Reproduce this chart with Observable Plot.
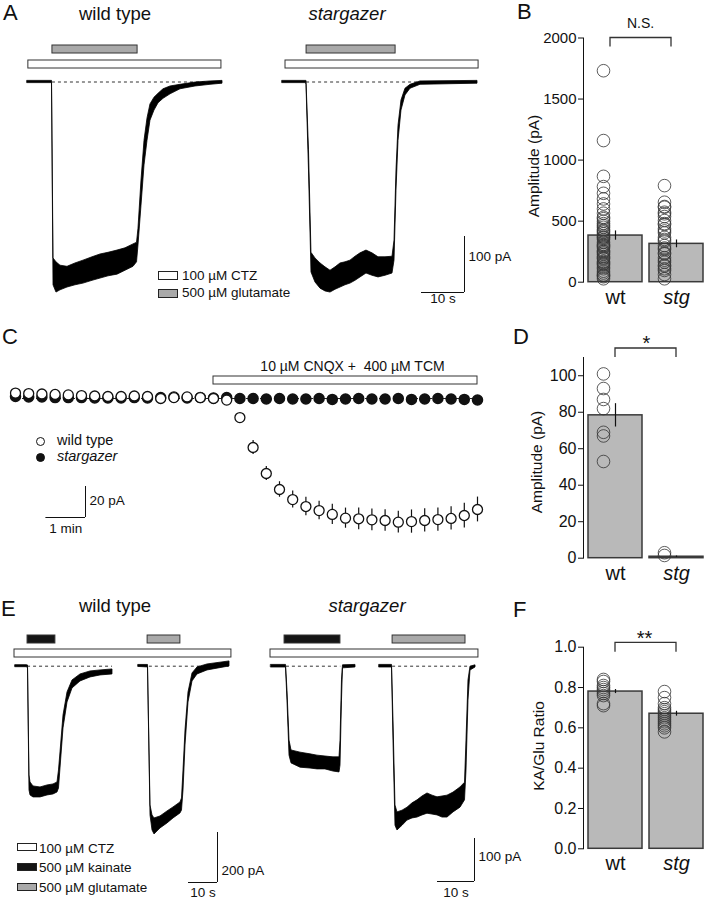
<!DOCTYPE html>
<html><head><meta charset="utf-8">
<script src="https://cdn.jsdelivr.net/npm/d3@7"></script>
<script src="https://cdn.jsdelivr.net/npm/@observablehq/plot@0.6"></script>
<style>
body{margin:0;background:#fff;}
#root{position:relative;width:705px;height:900px;overflow:hidden;background:#fff;font-family:"Liberation Sans",Arial,Helvetica,sans-serif;color:#111;}
.abs{position:absolute;white-space:pre;line-height:1;}
</style></head>
<body><div id="root"></div>
<script>
// ---------------- DATA ----------------
// Panel A traces: [time (s), upper edge (pA), lower edge (pA)]
const traceA_wt = [[0,2,-2],[5.7,2,-2],[6.05,-315,-363],[6.74,-322,-376],[7.67,-328,-372],[9.30,-330,-367],[11.16,-324,-363],[13.02,-319,-360],[15.12,-313,-355],[16.98,-308,-351],[18.84,-305,-347],[20.93,-301,-344],[22.79,-297,-337],[24.65,-290,-330],[25.47,-287,-322],[25.81,-262,-292],[26.51,-176,-221],[27.21,-105,-149],[27.91,-65,-105],[28.60,-40,-69],[29.53,-28,-51],[30.47,-21,-38],[31.63,-13,-30],[33.26,-8,-22],[35.58,-5,-13],[39.07,-1,-8],[42.56,1,-5],[45.35,2,-3]];
const traceA_stg = [[0,2,-2],[5.47,2,-2],[5.58,2,-5],[6.16,-122,-158],[6.74,-305,-340],[7.67,-315,-358],[8.84,-324,-369],[10.0,-331,-374],[11.16,-337,-376],[12.33,-331,-371],[13.49,-324,-367],[14.65,-322,-363],[15.81,-319,-360],[16.98,-312,-355],[18.14,-306,-349],[19.53,-301,-342],[20.93,-306,-346],[22.33,-313,-349],[23.95,-313,-346],[25.58,-312,-342],[26.05,-283,-319],[26.51,-158,-194],[26.98,-78,-105],[27.67,-33,-51],[28.60,-12,-24],[29.77,-5,-12],[32.09,1,-5],[45.35,2,-3]];
// Panel E traces
const traceE_wtKA = [[0.34,4,-4],[4.31,4,-4],[4.66,3,-9],[5.17,-437,-497],[5.52,-465,-517],[6.55,-481,-525],[8.97,-485,-525],[11.38,-477,-517],[13.45,-473,-513],[14.83,-465,-505],[15.34,-417,-489],[15.86,-345,-409],[16.90,-197,-249],[18.28,-105,-145],[20.0,-57,-89],[22.76,-33,-61],[26.21,-21,-45],[29.66,-17,-37],[33.79,-13,-33]];
const traceE_wtGlu = [[42.76,5,-3],[46.03,5,-5],[46.90,-557,-597],[47.59,-597,-657],[48.28,-609,-673],[50.34,-601,-649],[52.76,-581,-629],[54.83,-565,-609],[57.24,-545,-589],[57.76,-529,-577],[58.28,-417,-497],[58.97,-257,-317],[60.0,-105,-145],[61.38,-29,-61],[63.10,-5,-33],[66.55,7,-17],[74.14,19,-1]];
const traceE_stgKA = [[0.19,3,-3],[4.19,3,-3],[4.59,-57,-80],[5.14,-173,-208],[5.68,-196,-226],[8.11,-201,-236],[10.81,-205,-238],[12.70,-208,-240],[14.86,-210,-240],[17.03,-212,-245],[18.65,-212,-247],[18.92,-173,-231],[19.32,-33,-80],[19.59,2,-5],[22.97,3,-3]];
const traceE_stgGlu = [[29.46,3,-3],[32.84,3,-3],[33.24,-126,-173],[33.78,-324,-371],[34.32,-340,-382],[35.68,-336,-371],[37.03,-329,-359],[38.38,-319,-354],[39.73,-312,-352],[41.08,-303,-347],[42.43,-296,-343],[43.78,-301,-345],[45.14,-305,-347],[46.49,-303,-352],[47.84,-301,-352],[49.46,-294,-340],[51.35,-282,-329],[52.57,-271,-312],[52.97,-173,-243],[53.51,-33,-80],[54.05,-1,-10],[55.41,2,-3]];

// Drug applications (s)
const stimA_wt = [{drug:"glutamate",start:5.8,end:25.6},{drug:"CTZ",start:0.2,end:45.1}];
const stimA_stg = [{drug:"glutamate",start:5.6,end:26.3},{drug:"CTZ",start:0.7,end:45.6}];
const stimE_wt = [{drug:"kainate",start:4.5,end:14.1},{drug:"glutamate",start:45.9,end:57.2},{drug:"CTZ",start:0,end:74.8}];
const stimE_stg = [{drug:"kainate",start:3.8,end:18.9},{drug:"glutamate",start:33.0,end:52.7},{drug:"CTZ",start:0,end:56.2}];
const stimC = [{drug:"CNQX",start:300,end:700,text:"10 µM CNQX +  400 µM TCM"}];

// Dashed baselines (s)
const dashA_wt = [[5.8,45.1]], dashA_stg = [[5.6,45.3]];
const dashE_wt = [[4.5,33.8],[46.5,74.0]], dashE_stg = [[4.3,19.0],[33.0,54.0]];

// Scale bars
const scaleA = {sec:10, pA:100, secText:"10 s", pAText:"100 pA"};
const scaleC = {sec:60, pA:20, secText:"1 min", pAText:"20 pA"};
const scaleE_wt = {sec:10, pA:200, secText:"10 s", pAText:"200 pA"};
const scaleE_stg = {sec:10, pA:100, secText:"10 s", pAText:"100 pA"};

// Panel C time course
const timeC = [0,20,40,60,80,100,120,140,160,180,200,220,240,260,280,300,320,340,360,380,400,420,440,460,480,500,520,540,560,580,600,620,640,660,680,700];
const wtC = [3.5,3.2,2.9,2.6,2.3,1.9,1.6,1.3,1.3,1.6,1.3,0,0.6,1.0,0.6,0,-1.0,-12.3,-31.6,-48.4,-58.7,-65.2,-69.7,-72.3,-74.8,-77.2,-77.6,-78.3,-78.7,-79.8,-79.4,-78.7,-78.1,-77.4,-75.5,-71.6];
const wtC_sem = [0.6,0.6,0.6,0.6,0.6,0.6,0.6,0.6,0.6,0.6,0.6,0.6,0.6,0.6,0.6,0.6,0.8,2.5,4.5,4.5,5,5.5,6,6,6.5,6.5,7,7,7,7,7.5,7.5,7.5,7.5,8,8];
const stgC = [1.3,1.0,1.0,0.6,0.6,0.6,0.3,0.3,0.3,0.6,0.3,0.6,1.0,0.3,0.6,0.3,0.6,0,0,-0.3,0,-0.3,-0.3,0,-0.6,-0.3,0,-0.3,-0.3,0,-0.6,-0.3,0,-0.3,-0.6,-1.0];
const stgC_sem = [0.8,0.8,0.8,0.8,0.8,0.8,0.8,0.8,0.8,0.8,0.8,0.8,0.8,0.8,0.8,0.8,0.8,0.8,0.8,0.8,0.8,0.8,0.8,0.8,0.8,0.8,0.8,0.8,0.8,0.8,0.8,0.8,0.8,0.8,0.8,0.8];

// Group summaries
const groups = ["wt","stg"];
const ampB_wt = [1732,1160,867,783,728,682,641,600,565,532,499,464,431,396,363,327,292,259,227,191,159,123,90,55,28,520,480,450,420,410,380,370,350,310,300,280,250,240,210,200,170,150,140,110,75,60,45];
const ampB_stg = [791,655,614,573,538,505,472,437,404,368,336,300,268,232,200,164,131,96,63,28,620,560,480,420,350,280,240,180,140,110];
const ampB_mean = [382,314], ampB_sem = [38,32];
const ampD_wt = [101,93,87,82,69,67,53];
const ampD_stg = [3,1.5];
const ampD_mean = [78.3,0.8], ampD_sem = [6.4,0.4];
const ratioF_wt = [0.84,0.83,0.81,0.80,0.79,0.78,0.77,0.76,0.72,0.71];
const ratioF_stg = [0.78,0.75,0.72,0.70,0.69,0.68,0.67,0.66,0.65,0.64,0.63,0.62,0.61,0.60,0.58];
const ratioF_mean = [0.78,0.67], ratioF_sem = [0.01,0.012];
const ticksB = [0,500,1000,1500,2000];
const ticksD = [0,20,40,60,80,100];
const ticksF = [0,0.2,0.4,0.6,0.8,1.0];

// ---------------- LAYOUT / DRAWING ----------------
const root = document.getElementById("root");
const FONT = "'Liberation Sans', Arial, Helvetica, sans-serif";
const PSTYLE = `background:transparent;overflow:visible;max-width:none;font-family:${FONT};color:#111;`;
const drugFill = {CTZ:"#ffffff", glutamate:"#a9a9a9", kainate:"#151515", CNQX:"#ffffff"};

function place(node, left, top) {
  const d = document.createElement("div");
  d.style.cssText = `position:absolute;left:${left}px;top:${top}px;line-height:0;`;
  d.appendChild(node); root.appendChild(d);
}
function label(text, x, baseline, o = {}) {
  const size = o.size || 14;
  const d = document.createElement("div");
  d.className = "abs";
  d.textContent = text;
  d.style.fontSize = size + "px";
  d.style.top = (baseline - 0.8465 * size) + "px";
  d.style.left = x + "px";
  if (o.anchor === "middle") d.style.transform = "translateX(-50%)";
  if (o.italic) d.style.fontStyle = "italic";
  root.appendChild(d);
}
function vlabel(text, cx, cy, size) {
  const d = document.createElement("div");
  d.className = "abs";
  d.textContent = text;
  d.style.fontSize = size + "px";
  d.style.left = cx + "px";
  d.style.top = cy + "px";
  d.style.transform = "translate(-50%,-50%) rotate(-90deg)";
  root.appendChild(d);
}
function box(x, y, w, h, fill) {
  const d = document.createElement("div");
  d.style.cssText = `position:absolute;left:${x}px;top:${y}px;width:${w}px;height:${h}px;box-sizing:border-box;border:1px solid #222;background:${fill};`;
  root.appendChild(d);
}
function circ(cx, cy, r, fill) {
  const d = document.createElement("div");
  d.style.cssText = `position:absolute;left:${cx-r}px;top:${cy-r}px;width:${2*r}px;height:${2*r}px;box-sizing:border-box;border:1.3px solid #111;border-radius:50%;background:${fill};`;
  root.appendChild(d);
}

// Layouts of trace panels (pixels)
const LA_wt  = {left:27,  top:70,  bottom:310, width:196, x0:0, pxPerSec:4.3, pxPerPA:0.56, baseY:81.5};
const LA_stg = {left:282, top:70,  bottom:310, width:196, x0:0, pxPerSec:4.3, pxPerPA:0.56, baseY:81.5};
const LE_wt  = {left:14,  top:655, bottom:900, width:220, x0:0, pxPerSec:2.9, pxPerPA:0.25, baseY:665.7};
const LE_stg = {left:270, top:655, bottom:900, width:212, x0:0, pxPerSec:3.7, pxPerPA:0.43, baseY:665.7};
const LC     = {left:0,   top:385, bottom:545, width:500, x0:15, pxPerSec:0.66, pxPerPA:1.55, baseY:398};

const xDom = L => [-L.x0 / L.pxPerSec, (L.width - L.x0) / L.pxPerSec];
const yDom = L => [(L.baseY - L.bottom) / L.pxPerPA, (L.baseY - L.top) / L.pxPerPA];
const tAt = (L, px) => (px - L.left - L.x0) / L.pxPerSec;
const pAAt = (L, py) => (L.baseY - py) / L.pxPerPA;

function scaleBarMarks(L, sb, ax, ay, o) {
  const t0 = tAt(L, ax), p0 = pAAt(L, ay);
  return [
    Plot.ruleY([p0], {x1: t0 - sb.sec, x2: t0, stroke: "#111", strokeWidth: 1}),
    Plot.ruleX([t0], {y1: p0, y2: p0 + sb.pA, stroke: "#111", strokeWidth: 1}),
    Plot.text([sb.pAText], {x: t0, y: p0 + sb.pA / 2, dx: 4, dy: o.pdy, textAnchor: "start", lineAnchor: "middle", fontSize: 13.5}),
    Plot.text([sb.secText], {x: t0 - sb.sec / 2, y: p0, dy: o.sdy, lineAnchor: "middle", fontSize: 13.5})
  ];
}

function tracePlot(L, traces, dashes, extra) {
  const marks = [];
  for (const d of dashes) marks.push(Plot.ruleY([0], {x1: d[0], x2: d[1], stroke: "#333", strokeWidth: 1, strokeDasharray: "3,3"}));
  for (const tr of traces) marks.push(Plot.areaY(tr, {x: d => d[0], y1: d => d[2], y2: d => d[1], fill: "#000", stroke: "#000", strokeWidth: 0.8}));
  marks.push(...(extra || []));
  const p = Plot.plot({
    width: L.width, height: L.bottom - L.top, margin: 0,
    x: {domain: xDom(L), axis: null},
    y: {domain: yDom(L), axis: null},
    style: PSTYLE, marks
  });
  place(p, L.left, L.top);
}

function stimPlot(L, bars, top, height, rows, padding, extra) {
  const p = Plot.plot({
    width: L.width, height, margin: 0,
    x: {domain: xDom(L), axis: null},
    y: {type: "band", domain: rows, paddingInner: padding, paddingOuter: 0, axis: null},
    color: {type: "identity"},
    style: PSTYLE,
    marks: [
      Plot.barX(bars, {x1: "start", x2: "end", y: d => d.drug === "CTZ" || d.drug === "CNQX" ? "CTZ" : "agonist",
        fill: d => drugFill[d.drug], stroke: "#333", strokeWidth: 1}),
      ...(extra || [])
    ]
  });
  place(p, L.left, top);
}

// ---- Panel A ----
stimPlot(LA_wt, stimA_wt, 45, 24, ["agonist","CTZ"], 0.45);
stimPlot(LA_stg, stimA_stg, 45, 24, ["agonist","CTZ"], 0.45);
tracePlot(LA_wt, [traceA_wt], dashA_wt);
tracePlot(LA_stg, [traceA_stg], dashA_stg, scaleBarMarks(LA_stg, scaleA, 464, 292, {pdy: -8, sdy: 6}));

// ---- Panel E ----
stimPlot(LE_wt, stimE_wt, 634, 23, ["agonist","CTZ"], 0.45);
stimPlot(LE_stg, stimE_stg, 634, 23, ["agonist","CTZ"], 0.45);
tracePlot(LE_wt, [traceE_wtKA, traceE_wtGlu], dashE_wt, scaleBarMarks(LE_wt, scaleE_wt, 217, 882, {pdy: 13, sdy: 10}));
tracePlot(LE_stg, [traceE_stgKA, traceE_stgGlu], dashE_stg, scaleBarMarks(LE_stg, scaleE_stg, 474, 881, {pdy: -3, sdy: 11}));

// ---- Panel C ----
stimPlot(LC, stimC, 376, 8, ["CTZ"], 0, [
  Plot.text(stimC, {x: d => (d.start + d.end) / 2, text: "text", frameAnchor: "top", dy: -10, dx: 7, lineAnchor: "middle", fontSize: 14})
]);
{
  const wt = timeC.map((t, i) => ({t, v: wtC[i], s: wtC_sem[i]}));
  const stg = timeC.map((t, i) => ({t, v: stgC[i], s: stgC_sem[i]}));
  const p = Plot.plot({
    width: LC.width, height: LC.bottom - LC.top, margin: 0,
    x: {domain: xDom(LC), axis: null},
    y: {domain: yDom(LC), axis: null},
    style: PSTYLE,
    marks: [
      Plot.ruleY([0], {x1: timeC[0], x2: timeC[timeC.length - 1], stroke: "#222", strokeWidth: 1, strokeDasharray: "4,3"}),
      Plot.ruleX(stg, {x: "t", y1: d => d.v - d.s, y2: d => d.v + d.s, stroke: "#111", strokeWidth: 1.2}),
      Plot.dot(stg, {x: "t", y: "v", r: 5, fill: "#111", stroke: "#111"}),
      Plot.ruleX(wt, {x: "t", y1: d => d.v - d.s, y2: d => d.v + d.s, stroke: "#111", strokeWidth: 1.2}),
      Plot.dot(wt, {x: "t", y: "v", r: 5, fill: "#fff", stroke: "#111", strokeWidth: 1.3}),
      ...scaleBarMarks(LC, scaleC, 85, 517, {pdy: -1, sdy: 11})
    ]
  });
  place(p, LC.left, LC.top);
}

// ---- Panels B, D, F ----
function bracket(offsetTop, tickLen, dx) {
  return (index, scales, values, dims) => {
    const sx = scales && scales.x;
    if (!sx || !dims) return null;
    const bw = typeof sx.bandwidth === "function" ? sx.bandwidth() : (sx.bandwidth || 0);
    const x1 = sx("wt") + bw / 2 + dx, x2 = sx("stg") + bw / 2 + dx;
    const y = dims.marginTop + offsetTop;
    const p = document.createElementNS("http://www.w3.org/2000/svg", "path");
    p.setAttribute("d", `M${x1},${y + tickLen}V${y}H${x2}V${y + tickLen}`);
    p.setAttribute("fill", "none");
    p.setAttribute("stroke", "#333");
    p.setAttribute("stroke-width", "1.3");
    return p;
  };
}
function statPlot(o) {
  const stats = groups.map((g, i) => ({g, mean: o.mean[i], sem: o.sem[i]}));
  const pts = [...o.wt.map(v => ({g: "wt", v})), ...o.stg.map(v => ({g: "stg", v}))];
  const p = Plot.plot({
    width: 195, height: o.height, marginLeft: 73, marginRight: 0, marginTop: o.mt, marginBottom: o.mb,
    x: {type: "band", domain: groups, range: [78, 193], paddingInner: 0.115, paddingOuter: 0, axis: null},
    y: {domain: o.domain, ticks: o.ticks, tickSize: 5, tickPadding: 2, line: true, label: null, tickFormat: o.fmt},
    style: PSTYLE + `font-size:${o.tickFont}px;`,
    marks: [
      Plot.barY(stats, {x: "g", y: "mean", fill: "#b9b9b9", stroke: "#3a3a3a", strokeWidth: 1.5}),
      Plot.dot(pts, {x: "g", y: "v", r: 6.3, dx: -12, stroke: "#333", strokeWidth: 0.8, fill: "none"}),
      Plot.ruleX(stats, {x: "g", y1: d => d.mean - d.sem, y2: d => d.mean + d.sem, stroke: "#111", strokeWidth: 1.2}),
      Plot.text(["wt"], {x: d => d, frameAnchor: "bottom", dy: 15, lineAnchor: "middle", fontSize: 20}),
      Plot.text(["stg"], {x: d => d, frameAnchor: "bottom", dy: 15, lineAnchor: "middle", fontSize: 20, fontStyle: "italic"}),
      bracket(o.bTop, o.bTick, o.bdx),
      Plot.text([o.sig], {frameAnchor: "top", dx: o.sdx, dy: o.sdy, lineAnchor: "bottom", fontSize: o.sigFont})
    ]
  });
  place(p, 510, o.top);
  vlabel(o.label, o.lx, o.ly, 15.5);
}
statPlot({top: 0, height: 310, mt: 37.5, mb: 28.3, domain: [0, 2000], ticks: ticksB, fmt: d => String(d), tickFont: 15,
  wt: ampB_wt, stg: ampB_stg, mean: ampB_mean, sem: ampB_sem, label: "Amplitude (pA)", lx: 534, ly: 166,
  bTop: 0, bTick: 9, bdx: -5, sig: "N.S.", sdx: -4, sdy: -10, sigFont: 14});
statPlot({top: 320, height: 270, mt: 37, mb: 32.3, domain: [0, 110], ticks: ticksD, fmt: d => String(d), tickFont: 16,
  wt: ampD_wt, stg: ampD_stg, mean: ampD_mean, sem: ampD_sem, label: "Amplitude (pA)", lx: 537, ly: 462,
  bTop: -9, bTick: 9, bdx: 0, sig: "*", sdx: 2, sdy: -8, sigFont: 20});
statPlot({top: 610, height: 280, mt: 36.7, mb: 41.7, domain: [0, 1], ticks: ticksF, fmt: d => d.toFixed(1), tickFont: 16,
  wt: ratioF_wt, stg: ratioF_stg, mean: ratioF_mean, sem: ratioF_sem, label: "KA/Glu Ratio", lx: 539, ly: 746,
  bTop: -4.4, bTick: 9.4, bdx: 0, sig: "**", sdx: 0, sdy: -2.5, sigFont: 20});

// ---- Text: panel letters, titles, legends ----
label("A", 3, 21, {size: 22});
label("B", 517, 20, {size: 22});
label("C", 2, 345, {size: 22});
label("D", 513, 345, {size: 22});
label("E", 1, 617, {size: 22});
label("F", 513, 618, {size: 22});
label("wild type", 115, 21, {size: 18.5, anchor: "middle"});
label("stargazer", 347, 21, {size: 18.5, anchor: "middle", italic: true});
label("wild type", 115, 613, {size: 18.5, anchor: "middle"});
label("stargazer", 367, 613, {size: 18.5, anchor: "middle", italic: true});

box(158, 271, 20, 9, "#fff"); label("100 µM CTZ", 182, 280, {size: 13.5});
box(158, 289, 20, 9, "#a9a9a9"); label("500 µM glutamate", 182, 297, {size: 13.5});

circ(40, 441, 4.5, "#fff"); label("wild type", 57, 445, {size: 14.5});
circ(40, 457, 4.5, "#111"); label("stargazer", 57, 461, {size: 14.5, italic: true});

box(17, 843, 20, 8, "#fff"); label("100 µM CTZ", 39, 853, {size: 13.5});
box(17, 863, 20, 8, "#151515"); label("500 µM kainate", 39, 872, {size: 13.5});
box(17, 883, 20, 8, "#a9a9a9"); label("500 µM glutamate", 39, 892, {size: 13.5});
</script>
</body></html>
